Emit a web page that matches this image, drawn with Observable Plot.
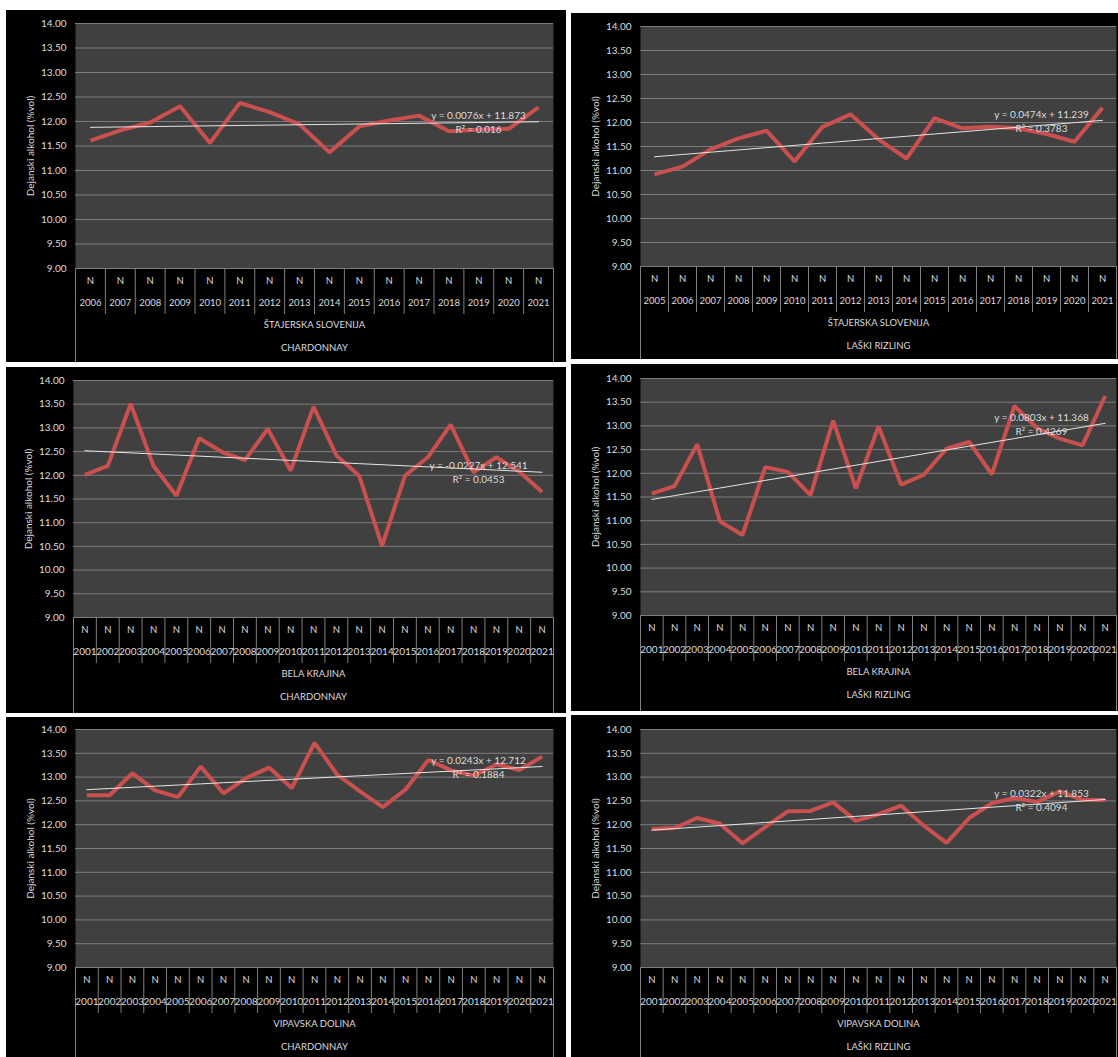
<!DOCTYPE html>
<html>
<head>
<meta charset="utf-8">
<script src="https://cdn.jsdelivr.net/npm/d3@7"></script>
<script src="https://cdn.jsdelivr.net/npm/@observablehq/plot@0.6"></script>
<style>
  html, body { margin: 0; padding: 0; background: #fff; width: 1118px; height: 1057px; overflow: hidden; }
  .panel { position: absolute; background: #000; overflow: hidden; }
  .panel svg { display: block; opacity: 0.999; }
</style>
</head>
<body>
<script>
// Actual alcohol (% vol) of wines by region and variety, with linear trends.
const regions = ["ŠTAJERSKA SLOVENIJA", "ŠTAJERSKA SLOVENIJA", "BELA KRAJINA", "BELA KRAJINA", "VIPAVSKA DOLINA", "VIPAVSKA DOLINA"];
const varieties = ["CHARDONNAY", "LAŠKI RIZLING", "CHARDONNAY", "LAŠKI RIZLING", "CHARDONNAY", "LAŠKI RIZLING"];
const qualityCode = "N";
const yTitle = "Dejanski alkohol (%vol)";
const yTicks = [9, 9.5, 10, 10.5, 11, 11.5, 12, 12.5, 13, 13.5, 14];

const yearsFrom2006 = [2006, 2007, 2008, 2009, 2010, 2011, 2012, 2013, 2014, 2015, 2016, 2017, 2018, 2019, 2020, 2021];
const yearsFrom2005 = [2005, 2006, 2007, 2008, 2009, 2010, 2011, 2012, 2013, 2014, 2015, 2016, 2017, 2018, 2019, 2020, 2021];
const yearsFrom2001 = [2001, 2002, 2003, 2004, 2005, 2006, 2007, 2008, 2009, 2010, 2011, 2012, 2013, 2014, 2015, 2016, 2017, 2018, 2019, 2020, 2021];

const stajerskaChardonnay = [11.61, 11.82, 11.98, 12.31, 11.56, 12.38, 12.19, 11.94, 11.37, 11.90, 12.02, 12.12, 11.80, 11.83, 11.85, 12.29];
const stajerskaLaskiRizling = [10.92, 11.08, 11.44, 11.67, 11.83, 11.19, 11.91, 12.17, 11.65, 11.25, 12.09, 11.88, 11.91, 11.88, 11.76, 11.60, 12.31];
const belaKrajinaChardonnay = [12.01, 12.20, 13.51, 12.20, 11.57, 12.78, 12.49, 12.32, 12.98, 12.10, 13.45, 12.42, 11.99, 10.51, 11.99, 12.38, 13.07, 12.06, 12.38, 12.08, 11.65];
const belaKrajinaLaskiRizling = [11.57, 11.73, 12.61, 10.99, 10.70, 12.13, 12.03, 11.54, 13.11, 11.68, 12.99, 11.76, 11.97, 12.52, 12.66, 11.98, 13.42, 12.95, 12.73, 12.59, 13.63];
const vipavaChardonnay = [12.62, 12.62, 13.08, 12.72, 12.58, 13.22, 12.66, 12.98, 13.20, 12.77, 13.72, 13.05, 12.70, 12.37, 12.74, 13.36, 13.14, 13.03, 13.27, 13.15, 13.43];
const vipavaLaskiRizling = [11.91, 11.93, 12.14, 12.02, 11.61, 11.95, 12.28, 12.29, 12.47, 12.08, 12.22, 12.40, 11.98, 11.62, 12.14, 12.45, 12.56, 12.48, 12.70, 12.52, 12.52];

// Linear trend y = slope·x + intercept, x = 1…n over the years of each series
const trendSlopes = [0.0076, 0.0474, -0.0227, 0.0803, 0.0243, 0.0322];
const trendIntercepts = [11.873, 11.239, 12.541, 11.368, 12.712, 11.853];
const trendR2 = [0.016, 0.3783, 0.0453, 0.4269, 0.1884, 0.4094];

const seriesYears = [yearsFrom2006, yearsFrom2005, yearsFrom2001, yearsFrom2001, yearsFrom2001, yearsFrom2001];
const seriesValues = [stajerskaChardonnay, stajerskaLaskiRizling, belaKrajinaChardonnay, belaKrajinaLaskiRizling, vipavaChardonnay, vipavaLaskiRizling];

// Placement of each chart box on the page
const boxes = [
  {left: 6,   top: 10,  width: 560, height: 352, mt: 13, ml: 69, mr: 13, ph: 245, fs: 9.5},
  {left: 571, top: 13,  width: 547, height: 346, mt: 13, ml: 69, mr: 2,  ph: 240, fs: 9.5},
  {left: 6,   top: 367, width: 560, height: 346, mt: 13, ml: 67, mr: 13, ph: 237, fs: 10},
  {left: 571, top: 364, width: 547, height: 347, mt: 14, ml: 69, mr: 2,  ph: 237, fs: 10},
  {left: 6,   top: 717, width: 560, height: 345, mt: 12, ml: 69, mr: 13, ph: 238, fs: 10},
  {left: 571, top: 715, width: 547, height: 347, mt: 14, ml: 69, mr: 2,  ph: 238, fs: 10}
];

const textColor = "#dcdcdc";
const font = "Lato, 'Open Sans', sans-serif";

boxes.forEach((box, k) => {
  const years = seriesYears[k];
  const values = seriesValues[k];
  const n = years.length;
  const idx = years.map((_, i) => i + 1);
  const points = values.map((v, i) => ({i: i + 1, v}));
  const slope = trendSlopes[k], intercept = trendIntercepts[k];
  const trendAt = (x) => slope * x + intercept;
  const eqText = `y = ${slope}x + ${intercept}`;
  const r2Text = `R² = ${trendR2[k]}`;
  const bounds = d3.range(0.5, n + 1, 1);
  const mb = box.height - box.mt - box.ph;

  const chart = Plot.plot({
    width: box.width,
    height: box.height,
    marginTop: box.mt,
    marginBottom: mb,
    marginLeft: box.ml,
    marginRight: box.mr,
    x: {domain: [0.5, n + 0.5], axis: null},
    y: {domain: [9, 14], axis: null},
    style: {background: "#000", color: textColor, fontFamily: font, overflow: "visible"},
    marks: [
      Plot.frame({fill: "#404040", stroke: null}),
      Plot.ruleY(yTicks, {stroke: "#7c7c7c", strokeWidth: 1}),
      // y tick labels
      Plot.text(yTicks, {y: d => d, text: d => d.toFixed(2), frameAnchor: "left", dx: -9, textAnchor: "end", fontSize: 10, fill: textColor}),
      // y title
      Plot.text([yTitle], {frameAnchor: "left", dx: -45, rotate: -90, textAnchor: "middle", fontSize: 10, fill: textColor}),
      // category separators under the plot area
      Plot.ruleX(bounds.slice(1, -1), {x: d => d, stroke: "#808080", strokeWidth: 1, insetTop: box.ph, insetBottom: -46}),
      Plot.ruleX([bounds[0], bounds[bounds.length - 1]], {x: d => d, stroke: "#808080", strokeWidth: 1, insetTop: box.ph, insetBottom: -mb}),
      // series
      Plot.line(points, {x: "i", y: "v", stroke: "#c9504e", strokeWidth: 4, strokeLinejoin: "miter", strokeLinecap: "butt"}),
      // trend line
      Plot.line(idx, {x: d => d, y: d => trendAt(d), stroke: "#e6e6e6", strokeWidth: 1}),
      Plot.text([eqText], {y: () => trendAt(n), frameAnchor: "right", dx: -75, dy: -6, textAnchor: "middle", fontSize: 10, fill: textColor}),
      Plot.text([r2Text], {y: () => trendAt(n), frameAnchor: "right", dx: -75, dy: 8, textAnchor: "middle", fontSize: 10, fill: textColor}),
      // multi-level category labels
      Plot.text(idx, {x: d => d, text: () => qualityCode, frameAnchor: "bottom", dy: 15, fontSize: 9.5, fill: textColor}),
      Plot.text(idx, {x: d => d, text: d => String(years[d - 1]), frameAnchor: "bottom", dy: 37, fontSize: box.fs, fill: textColor}),
      Plot.text([regions[k]], {frameAnchor: "bottom", dy: 59, fontSize: 9.5, fill: textColor}),
      Plot.text([varieties[k]], {frameAnchor: "bottom", dy: 82, fontSize: 9.5, fill: textColor})
    ]
  });

  const div = document.createElement("div");
  div.className = "panel";
  div.style.left = box.left + "px";
  div.style.top = box.top + "px";
  div.style.width = box.width + "px";
  div.style.height = box.height + "px";
  div.appendChild(chart);
  document.body.appendChild(div);
});
</script>
</body>
</html>
